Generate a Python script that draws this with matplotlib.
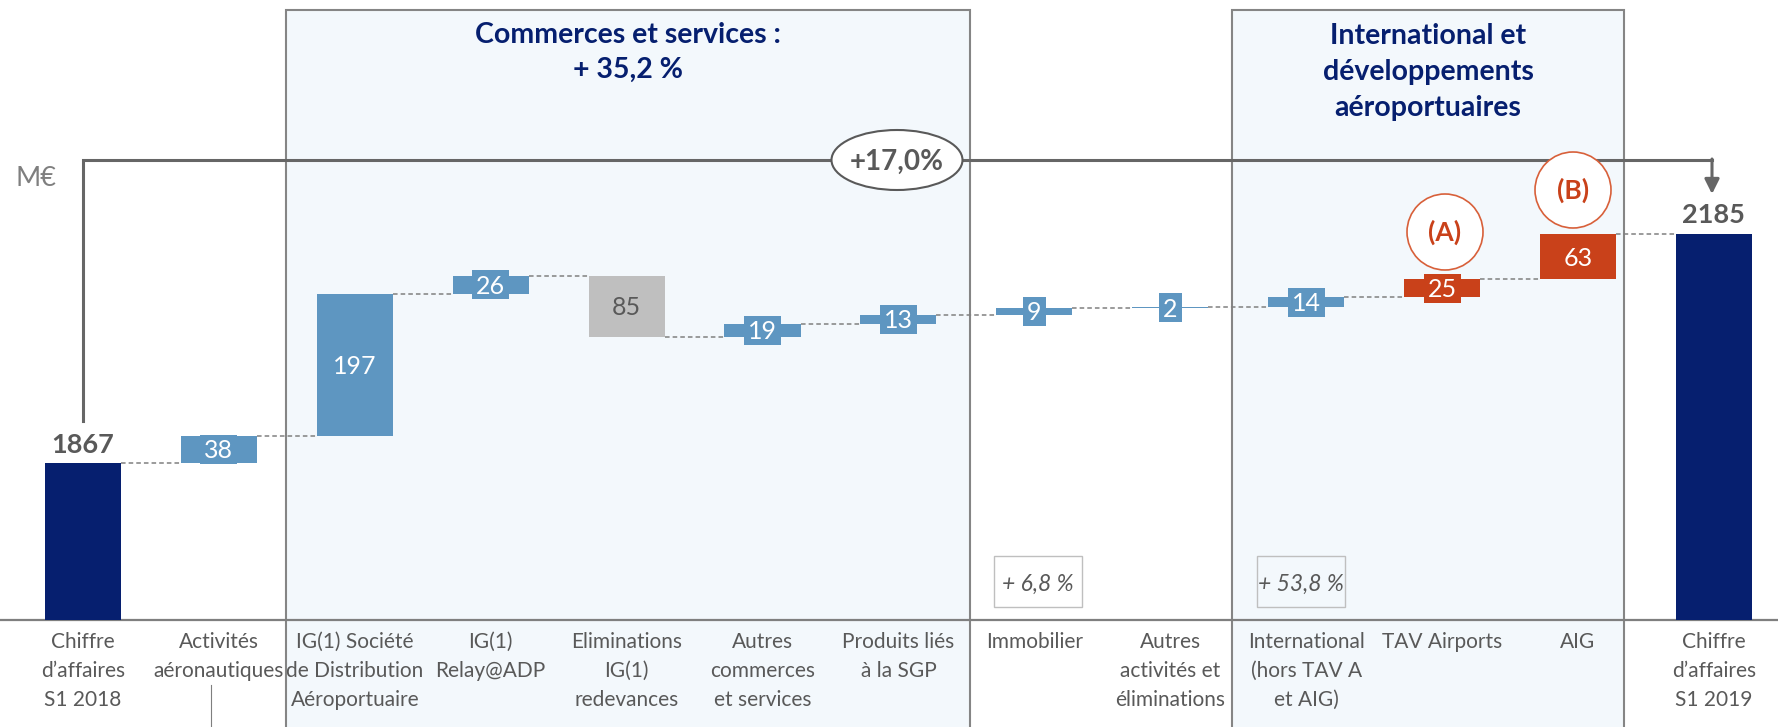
import matplotlib
matplotlib.use("Agg")
import matplotlib.pyplot as plt
from matplotlib.patches import Rectangle, Ellipse, Circle
from matplotlib.transforms import Affine2D

plt.rcParams['font.family'] = ['Lato', 'DejaVu Sans']

# ---------------- data ----------------
categories = [
    "Chiffre\nd’affaires\nS1 2018",
    "Activités\naéronautiques",
    "IG(1) Société\nde Distribution\nAéroportuaire",
    "IG(1)\nRelay@ADP",
    "Eliminations\nIG(1)\nredevances",
    "Autres\ncommerces\net services",
    "Produits liés\nà la SGP",
    "Immobilier",
    "Autres\nactivités et\néliminations",
    "International\n(hors TAV A\net AIG)",
    "TAV Airports",
    "AIG",
    "Chiffre\nd’affaires\nS1 2019",
]
start_total = 1867
end_total = 2185
steps = [37.7, 196.7, 25.7, -85.4, 18.7, 12.7, 8.7, 1.7, 13.7, 24.7, 62.7]
step_group = ["up", "up", "up", "down", "up", "up", "up", "up", "up", "intl", "intl"]
axis_floor = 1649          # value shown at the (truncated) baseline
y_min, y_max = 1500.4, 2510.0
x_min, x_max = -0.611, 12.472

group_titles = [["Commerces et services :", "+ 35,2 %"],
                ["International et", "développements", "aéroportuaires"]]
segment_growth = ["+ 6,8 %", "+ 53,8 %"]
total_growth = "+17,0%"
markers = ["(A)", "(B)"]
unit = "M€"

# ---------------- style ----------------
NAVY = "#061F6F"
BLUE = "#5E96C1"
GREY_BAR = "#BFBFBF"
ORANGE = "#C9411A"
TXT = "#595959"
LINE = "#666666"
BOXFILL = "#F3F8FC"
BOXEDGE = "#858585"
colors = {"up": BLUE, "down": GREY_BAR, "intl": ORANGE}

W, H = 1778, 727
fig = plt.figure(figsize=(W / 100, H / 100), dpi=100)
ax = fig.add_axes([0, 0, 1, 1])
ax.set_xlim(x_min, x_max)
ax.set_ylim(y_min, y_max)
ax.axis("off")

pix = Affine2D().scale(1 / W, -1 / H).translate(0, 1) + fig.transFigure
sx = W / (x_max - x_min)   # px per x unit
sy = H / (y_max - y_min)   # px per y unit
BW = 0.56

# background group boxes
for (x0, x1) in [(286, 970), (1232, 1624)]:
    ax.add_patch(Rectangle((x0, 10), x1 - x0, 740, transform=pix,
                           facecolor=BOXFILL, edgecolor=BOXEDGE, lw=1.5, zorder=0))

# baseline
ax.plot([x_min, x_max], [axis_floor, axis_floor], color="#7F7F7F", lw=1.6, zorder=2)
ax.plot([211, 211], [685, 727], transform=pix, color="#7F7F7F", lw=0.8, zorder=2)

# total bars
n = len(categories)
ax.bar([0, n - 1], [start_total - axis_floor, end_total - axis_floor], bottom=axis_floor,
       width=BW, color=NAVY, zorder=3)

# step bars
cum = start_total
levels = [start_total]
xs, bottoms, heights, cols = [], [], [], []
for i, s in enumerate(steps):
    xs.append(i + 1)
    bottoms.append(min(cum, cum + s))
    heights.append(abs(s))
    cols.append(colors[step_group[i]])
    cum += s
    levels.append(cum)
ax.bar(xs, heights, bottom=bottoms, width=BW, color=cols, zorder=3)

# label tabs and values
for x, b, h, c, s in zip(xs, bottoms, heights, cols, steps):
    lab = f"{abs(s):.0f}"
    mid = b + h / 2
    wpx = 9 + 14 * len(lab)
    ax.add_patch(Rectangle((x - wpx / 2 / sx, mid - 14.5 / sy), wpx / sx, 29 / sy,
                           facecolor=c, edgecolor="none", zorder=4))
    ax.text(x, mid - 9 / sy, lab, ha="center", va="baseline", fontsize=18,
            color=TXT if c == GREY_BAR else "white", zorder=5)

# dashed connectors
for i in range(n - 1):
    ax.plot([i + BW / 2, i + 1 - BW / 2], [levels[i], levels[i]], ls=(0, (3, 2)),
            color="#808080", lw=1.1, zorder=2)

# totals labels
ax.text(0, start_total + 10 / sy, f"{start_total}", ha="center", va="baseline",
        fontsize=19.5, fontweight="bold", color=TXT, zorder=5)
ax.text(n - 1, end_total + 11 / sy, f"{end_total}", ha="center", va="baseline",
        fontsize=19.5, fontweight="bold", color=TXT, zorder=5)

# category labels
for i, lab in enumerate(categories):
    xp = (i - x_min) * sx
    for k, line in enumerate(lab.split("\n")):
        ax.text(xp, 648 + 29 * k, line, transform=pix, ha="center", va="baseline",
                fontsize=15, color=TXT, zorder=5)

# group titles
for k, line in enumerate(group_titles[0]):
    ax.text(628, 43 + 35 * k, line, transform=pix, ha="center", va="baseline",
            fontsize=20.5, fontweight="bold", color=NAVY, zorder=5)
for k, line in enumerate(group_titles[1]):
    ax.text(1428, 44 + 36 * k, line, transform=pix, ha="center", va="baseline",
            fontsize=20.5, fontweight="bold", color=NAVY, zorder=5)

# unit
ax.text(16, 186, unit, transform=pix, ha="left", va="baseline", fontsize=19.5,
        color="#7F7F7F", zorder=5)

# bracket with arrow
ax.plot([83, 83, 1712], [421, 160, 160], transform=pix, color=LINE, lw=2.2,
        solid_joinstyle="miter", zorder=6)
ax.annotate("", xy=(1712, 194), xycoords=pix, xytext=(1712, 159), textcoords=pix,
            arrowprops=dict(arrowstyle="-|>", color=LINE, lw=2.2, mutation_scale=22,
                            shrinkA=0, shrinkB=0), zorder=6)
ax.add_patch(Ellipse((897, 160), 131, 60, transform=pix, facecolor="white",
                     edgecolor=TXT, lw=1.5, zorder=7))
ax.text(897, 170, total_growth, transform=pix, ha="center", va="baseline",
        fontsize=20, fontweight="bold", color=TXT, zorder=8)

# (A) / (B) markers
for (cx, cy), lab in zip([(1445, 232), (1573, 190)], markers):
    ax.add_patch(Circle((cx, cy), 38, transform=pix, facecolor="white",
                        edgecolor="#D8603A", lw=1.2, zorder=7))
    ax.text(cx, cy + 9, lab, transform=pix, ha="center", va="baseline", fontsize=19,
            fontweight="bold", color=ORANGE, zorder=8)

# segment growth boxes
for (x0, fc), lab in zip([(994, "white"), (1257, BOXFILL)], segment_growth):
    ax.add_patch(Rectangle((x0, 556), 88, 51, transform=pix, facecolor=fc,
                           edgecolor="#BFBFBF", lw=1.0, zorder=4))
    ax.text(x0 + 44, 591, lab, transform=pix, ha="center", va="baseline", fontsize=16.5,
            fontstyle="italic", color=TXT, zorder=5)

fig.savefig("out.png", dpi=100)
